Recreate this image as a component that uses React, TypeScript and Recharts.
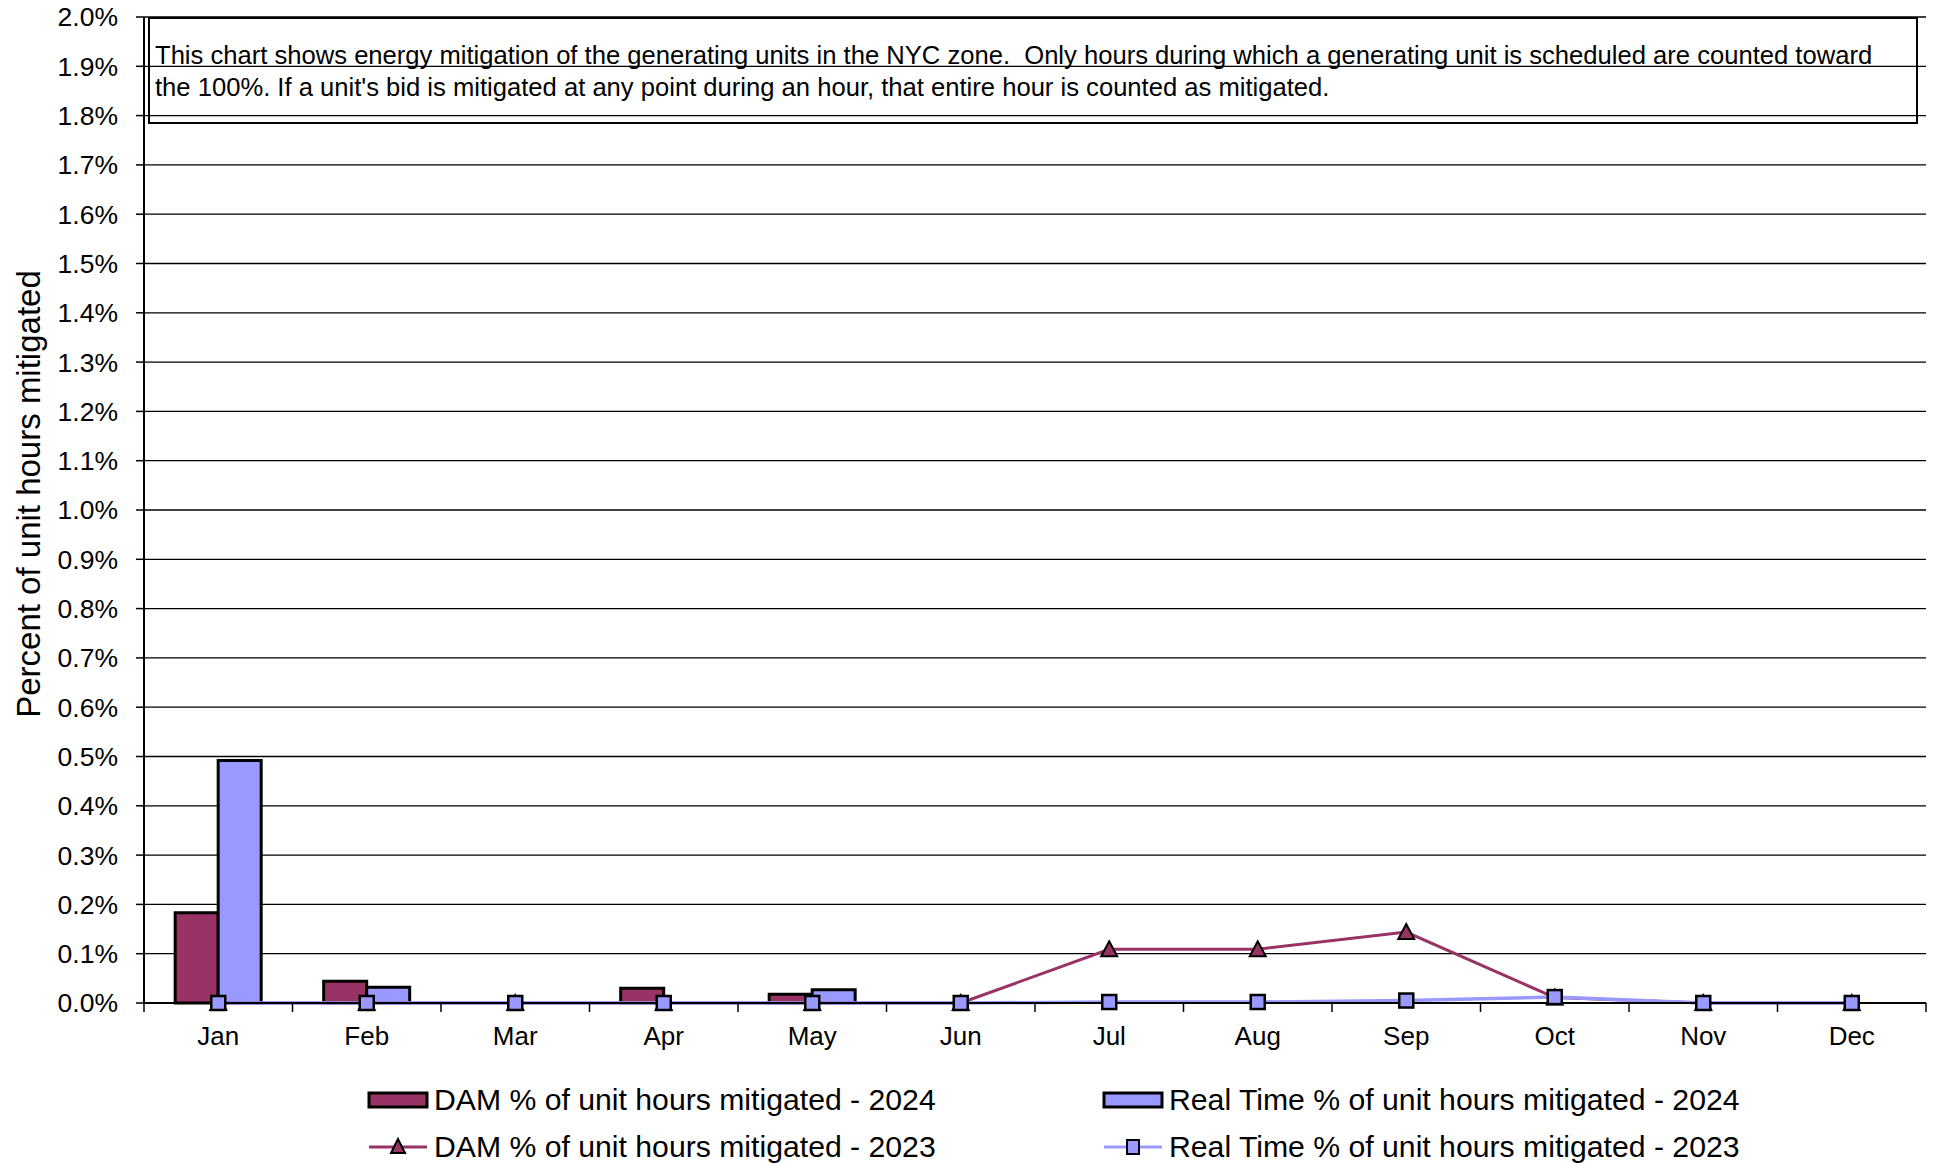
import React from 'react';
import {
  ComposedChart,
  Bar,
  Line,
  XAxis,
  YAxis,
  CartesianGrid,
  Legend,
} from 'recharts';

const MONTHS = ['Jan', 'Feb', 'Mar', 'Apr', 'May', 'Jun', 'Jul', 'Aug', 'Sep', 'Oct', 'Nov', 'Dec'];
const DAM_2024 = [0.183, 0.044, 0, 0.03, 0.018, 0, null, null, null, null, null, null];
const RT_2024 = [0.492, 0.032, 0, 0, 0.027, 0, null, null, null, null, null, null];
const DAM_2023 = [0, 0, 0, 0, 0, 0, 0.109, 0.109, 0.144, 0.011, 0, 0];
const RT_2023 = [0, 0, 0, 0, 0, 0, 0.002, 0.002, 0.005, 0.012, 0, 0];
const Y_TICKS = [0, 0.1, 0.2, 0.3, 0.4, 0.5, 0.6, 0.7, 0.8, 0.9, 1.0, 1.1, 1.2, 1.3, 1.4, 1.5, 1.6, 1.7, 1.8, 1.9, 2.0];

const SERIES_NAMES = {
  dam2024: 'DAM % of unit hours mitigated - 2024',
  rt2024: 'Real Time % of unit hours mitigated - 2024',
  dam2023: 'DAM % of unit hours mitigated - 2023',
  rt2023: 'Real Time % of unit hours mitigated - 2023',
};

const NOTE_LINE_1 =
  'This chart shows energy mitigation of the generating units in the NYC zone.  Only hours during which a generating unit is scheduled are counted toward';
const NOTE_LINE_2 =
  "the 100%. If a unit's bid is mitigated at any point during an hour, that entire hour is counted as mitigated.";

const DAM_COLOR = '#993366';
const RT_COLOR = '#9999FF';
const FONT = '"Liberation Sans", Arial, Helvetica, sans-serif';

const W = 1937;
const H = 1164;
const MARGIN = { top: 17, right: 11, left: 0, bottom: 0 };
const Y_AXIS_W = 144;
const BAND = (W - MARGIN.right - MARGIN.left - Y_AXIS_W) / MONTHS.length;

const data = MONTHS.map((m, i) => ({
  month: m,
  dam2024: DAM_2024[i],
  rt2024: RT_2024[i],
  dam2023: DAM_2023[i],
  rt2023: RT_2023[i],
}));

const XTick = (props: any) => {
  const { x, y, payload, index } = props;
  const axisY = y - 8;
  const half = BAND / 2;
  return (
    <g>
      <line x1={x - half} x2={x - half} y1={axisY} y2={axisY + 9} stroke="#000" strokeWidth={1.5} />
      {index === MONTHS.length - 1 && (
        <line x1={x + half} x2={x + half} y1={axisY} y2={axisY + 9} stroke="#000" strokeWidth={1.5} />
      )}
      <text x={x} y={axisY + 42} textAnchor="middle" fontSize={26} fontFamily={FONT} fill="#000">
        {payload.value}
      </text>
    </g>
  );
};

const TriangleDot = (props: any) => {
  const { cx, cy, index } = props;
  if (cx == null || cy == null) return <g key={`t-${index}`} />;
  return (
    <polygon
      key={`t-${index}`}
      points={`${cx},${cy - 8} ${cx - 8},${cy + 7} ${cx + 8},${cy + 7}`}
      fill={DAM_COLOR}
      stroke="#000"
      strokeWidth={2}
    />
  );
};

const SquareDot = (props: any) => {
  const { cx, cy, index } = props;
  if (cx == null || cy == null) return <g key={`s-${index}`} />;
  return (
    <rect
      key={`s-${index}`}
      x={cx - 7}
      y={cy - 7}
      width={14}
      height={14}
      fill={RT_COLOR}
      stroke="#000"
      strokeWidth={2.5}
    />
  );
};

const YTitle = (props: any) => {
  const { viewBox } = props;
  const cx = 28;
  const cy = viewBox.y + viewBox.height / 2 - 16;
  return (
    <text
      x={cx}
      y={cy}
      transform={`rotate(-90, ${cx}, ${cy})`}
      textAnchor="middle"
      dominantBaseline="central"
      fontSize={33}
      fontFamily={FONT}
      fill="#000"
    >
      Percent of unit hours mitigated
    </text>
  );
};

const LegendContent = () => {
  const col1 = 369;
  const col2 = 1104;
  const sw = 58;
  const row1 = 36;
  const row2 = 83;
  const textStyle = { fontSize: 30.2, fontFamily: FONT, fill: '#000' };
  return (
    <svg width={W} height={100} style={{ display: 'block' }}>
      <rect x={col1} y={row1 - 7} width={sw} height={14} fill={DAM_COLOR} stroke="#000" strokeWidth={3} />
      <text x={col1 + 65} y={row1 + 10} {...textStyle}>{SERIES_NAMES.dam2024}</text>
      <rect x={col2} y={row1 - 7} width={sw} height={14} fill={RT_COLOR} stroke="#000" strokeWidth={3} />
      <text x={col2 + 65} y={row1 + 10} {...textStyle}>{SERIES_NAMES.rt2024}</text>

      <line x1={col1} x2={col1 + sw} y1={row2} y2={row2} stroke={DAM_COLOR} strokeWidth={3} />
      <polygon
        points={`${col1 + sw / 2},${row2 - 8} ${col1 + sw / 2 - 7},${row2 + 6} ${col1 + sw / 2 + 7},${row2 + 6}`}
        fill={DAM_COLOR}
        stroke="#000"
        strokeWidth={2}
      />
      <text x={col1 + 65} y={row2 + 10} {...textStyle}>{SERIES_NAMES.dam2023}</text>
      <line x1={col2} x2={col2 + sw} y1={row2} y2={row2} stroke={RT_COLOR} strokeWidth={3} />
      <rect x={col2 + sw / 2 - 6} y={row2 - 7} width={12} height={14} fill={RT_COLOR} stroke="#000" strokeWidth={2} />
      <text x={col2 + 65} y={row2 + 10} {...textStyle}>{SERIES_NAMES.rt2023}</text>
    </svg>
  );
};

export default function App() {
  return (
    <div style={{ position: 'absolute', left: 0, top: 0, width: W, height: H, background: '#fff' }}>
      <ComposedChart width={W} height={H} data={data} margin={MARGIN} barCategoryGap="21%" barGap={0}>
        <CartesianGrid horizontal vertical={false} stroke="#000" strokeWidth={1.3} />
        <XAxis
          dataKey="month"
          height={61}
          interval={0}
          tickLine={false}
          tickSize={8}
          tickMargin={0}
          axisLine={{ stroke: '#000', strokeWidth: 2 }}
          tick={<XTick />}
        />
        <YAxis
          width={Y_AXIS_W}
          domain={[0, 2]}
          ticks={Y_TICKS}
          interval={0}
          tickFormatter={(v: number) => `${v.toFixed(1)}%`}
          tickSize={8}
          tickMargin={18}
          tickLine={{ stroke: '#000', strokeWidth: 1.5 }}
          axisLine={{ stroke: '#000', strokeWidth: 2 }}
          tick={{ fontSize: 26.5, fontFamily: FONT, fill: '#000' }}
          label={<YTitle />}
        />
        <YAxis
          yAxisId="right"
          orientation="right"
          width={0}
          tick={false}
          tickLine={false}
          axisLine={{ stroke: '#888', strokeWidth: 2 }}
        />
        <Legend verticalAlign="bottom" height={100} content={<LegendContent />} />
        <Bar dataKey="dam2024" name={SERIES_NAMES.dam2024} fill={DAM_COLOR} stroke="#000" strokeWidth={3} isAnimationActive={false} />
        <Bar dataKey="rt2024" name={SERIES_NAMES.rt2024} fill={RT_COLOR} stroke="#000" strokeWidth={3} isAnimationActive={false} />
        <Line
          type="linear"
          dataKey="dam2023"
          name={SERIES_NAMES.dam2023}
          stroke={DAM_COLOR}
          strokeWidth={3}
          dot={<TriangleDot />}
          activeDot={false}
          isAnimationActive={false}
        />
        <Line
          type="linear"
          dataKey="rt2023"
          name={SERIES_NAMES.rt2023}
          stroke={RT_COLOR}
          strokeWidth={3.5}
          dot={<SquareDot />}
          activeDot={false}
          isAnimationActive={false}
        />
      </ComposedChart>
      <div
        style={{
          position: 'absolute',
          left: 148,
          top: 17,
          width: 1770,
          height: 107,
          boxSizing: 'border-box',
          border: '2px solid #000',
          background: 'transparent',
          fontFamily: FONT,
          fontSize: 25.6,
          lineHeight: '32px',
          paddingTop: 20,
          paddingLeft: 5,
          whiteSpace: 'pre',
          color: '#000',
        }}
      >
        {NOTE_LINE_1}
        {'\n'}
        {NOTE_LINE_2}
      </div>
    </div>
  );
}
